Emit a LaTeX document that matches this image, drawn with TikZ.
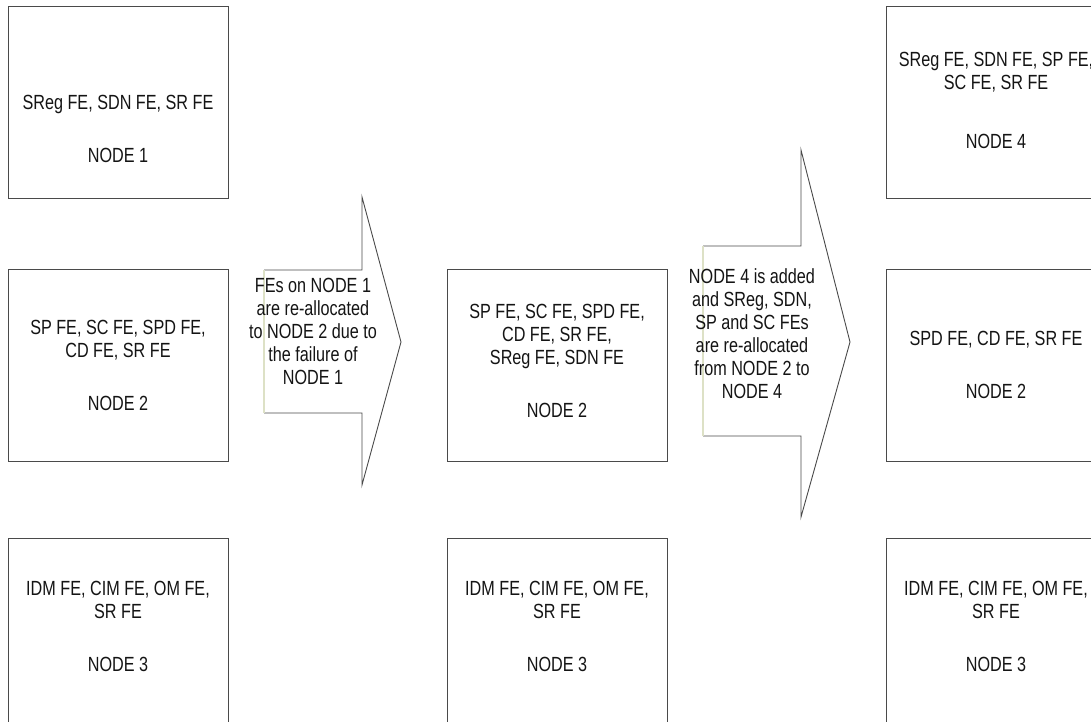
\documentclass[tikz,border=0pt]{standalone}
\usepackage{fontspec}
\setmainfont{Liberation Sans}[FakeStretch=0.79]
\definecolor{edgegray}{HTML}{4A4A4A}
\definecolor{paleedge}{HTML}{DDE1C6}
\begin{document}
\begin{tikzpicture}[x=1pt,y=-1pt,
  fbox/.style={draw=edgegray, line width=1.3pt, minimum width=220pt,
    minimum height=192pt, inner sep=0pt, anchor=north west},
  ftext/.style={align=center, inner sep=0pt, text=black!92,
    font=\fontsize{20.5}{23}\selectfont},
  bigarrow/.style={draw=edgegray, line width=0.9pt, line join=miter},
  arrowback/.style={draw=paleedge, line width=1.6pt}]
\useasboundingbox (0,0) rectangle (1091,721);
\clip (0,0) rectangle (1091,721);

% first column: the three nodes before the failure
\node[fbox] (b1) at (8,6) {};
\node[fbox] (b2) at (8,269) {};
\node[fbox] (b3) at (8,538) {};
\node[ftext] (t1) at (118,129) {SReg FE, SDN FE, SR FE\\[30pt]NODE 1};
\node[ftext] (t2) at (118,365) {SP FE, SC FE, SPD FE,\\CD FE, SR FE\\[30pt]NODE 2};
\node[ftext] (t3) at (118,626.5) {IDM FE, CIM FE, OM FE,\\SR FE\\[30pt]NODE 3};

% first transition arrow
\coordinate (a1s) at (264,270);
\coordinate (a1e) at (264,413);
\fill[white] (a1s) -- (362,270) -- (362,197) -- (401,342) -- (362,485) -- (362,413) -- (a1e) -- cycle;
\draw[bigarrow] (a1e) -- (362,413) -- (362,485) -- (401,342) -- (362,197) -- (362,270) -- (a1s);
\draw[arrowback] (a1s) -- (a1e);
\node[ftext] (a1t) at (313,331.5) {FEs on NODE 1\\are re-allocated\\to NODE 2 due to\\the failure of\\NODE 1};

% second column: after re-allocation to node 2
\node[fbox] (m2) at (447,269) {};
\node[fbox] (m3) at (447,538) {};
\node[ftext] (tm2) at (557,360.5) {SP FE, SC FE, SPD FE,\\CD FE, SR FE,\\SReg FE, SDN FE\\[30pt]NODE 2};
\node[ftext] (tm3) at (557,626.5) {IDM FE, CIM FE, OM FE,\\SR FE\\[30pt]NODE 3};

% second transition arrow
\coordinate (a2s) at (703,246);
\coordinate (a2e) at (703,436);
\fill[white] (a2s) -- (801,246) -- (801,150) -- (850,342) -- (801,517) -- (801,436) -- (a2e) -- cycle;
\draw[bigarrow] (a2e) -- (801,436) -- (801,517) -- (850,342) -- (801,150) -- (801,246) -- (a2s);
\draw[arrowback] (a2s) -- (a2e);
\node[ftext] (a2t) at (752,333.5) {NODE 4 is added\\and SReg, SDN,\\SP and SC FEs\\are re-allocated\\from NODE 2 to\\NODE 4};

% third column: node 4 added
\node[fbox] (r4) at (886,6) {};
\node[fbox] (r2) at (886,269) {};
\node[fbox] (r3) at (886,538) {};
\node[ftext] (tr4) at (996,100) {SReg FE, SDN FE, SP FE,\\SC FE, SR FE\\[36pt]NODE 4};
\node[ftext] (tr2) at (996,364.5) {SPD FE, CD FE, SR FE\\[30pt]NODE 2};
\node[ftext] (tr3) at (996,626.5) {IDM FE, CIM FE, OM FE,\\SR FE\\[30pt]NODE 3};
\end{tikzpicture}
\end{document}
